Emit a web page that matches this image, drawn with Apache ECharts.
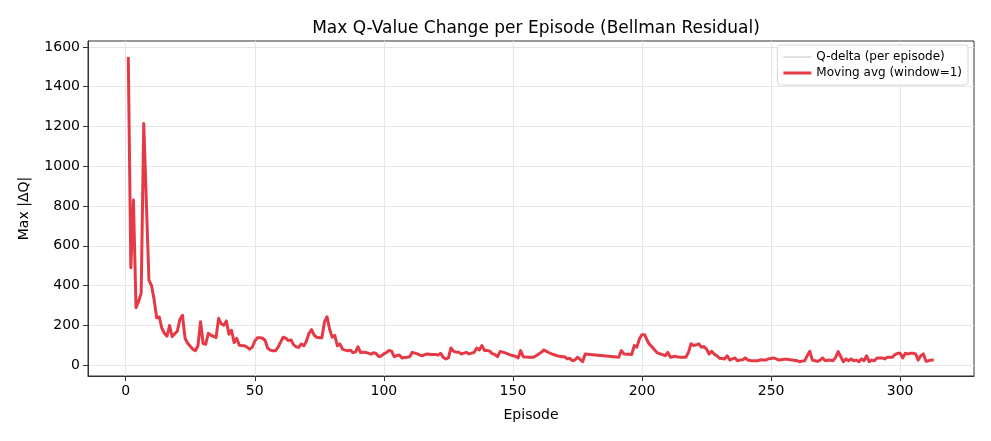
<!DOCTYPE html>
<html>
<head>
<meta charset="utf-8">
<script src="https://cdn.jsdelivr.net/npm/echarts@6/dist/echarts.min.js"></script>
<style>
html,body{margin:0;padding:0;background:#fff;}
#chart{width:991px;height:441px;}
</style>
</head>
<body>
<div id="chart"></div>
<script>
const episodes = [1,2,3,4,5,6,7,8,9,10,11,12,13,14,15,16,17,18,19,20,21,22,23,24,25,26,27,28,29,30,31,32,33,34,35,36,37,38,39,40,41,42,43,44,45,46,47,48,49,50,
51,52,53,54,55,56,57,58,59,60,61,62,63,64,65,66,67,68,69,70,71,72,73,74,75,76,77,78,79,80,81,82,83,84,85,86,87,88,89,90,91,92,93,94,95,96,97,98,99,100,
101,102,103,104,105,106,107,108,109,110,111,112,113,114,115,116,117,118,119,120,121,122,123,124,125,126,127,128,129,130,131,132,133,134,135,136,137,138,139,140,141,142,143,144,145,146,147,148,149,150,
151,152,153,154,155,156,157,158,159,160,161,162,163,164,165,166,167,168,169,170,171,172,173,174,175,176,177,178,
191,192,193,194,195,196,197,198,199,200,
201,202,203,204,205,206,207,208,209,210,211,212,213,214,215,216,217,218,219,220,221,222,223,224,225,226,227,228,229,230,231,232,233,234,235,236,237,238,239,240,241,242,243,244,245,246,247,248,249,250,
251,252,253,254,255,256,257,258,259,260,261,262,263,264,265,266,267,268,269,270,271,272,273,274,275,276,277,278,279,280,281,282,283,284,285,286,287,288,289,290,291,292,293,294,295,296,297,298,299,300,
301,302,303,304,305,306,307,308,309,310,311,312,313];
const qDelta = [1550,490,830,288,320,362,1215,820,426,400,330,238,242,185,160,145,199,143,158,170,230,250,135,110,95,80,72,97,218,108,105,160,150,145,138,235,208,200,222,155,175,113,135,100,98,97,90,80,89,120,
137,137,135,125,85,75,72,72,89,115,140,135,123,127,103,92,89,106,97,120,160,178,150,140,137,137,217,243,180,140,149,97,106,80,75,72,75,63,65,92,63,65,63,60,55,62,58,43,46,56,
63,73,70,42,48,51,36,38,39,42,64,60,56,50,47,53,56,53,53,53,50,59,39,31,36,86,69,66,64,56,60,64,56,60,64,86,76,98,73,73,70,58,53,42,68,65,61,56,51,47,
44,36,73,42,40,39,39,39,47,56,64,76,69,62,56,52,47,44,42,42,31,34,22,25,39,29,17,56,
39,73,56,55,54,53,98,90,132,153,
153,124,103,90,75,61,56,53,47,64,39,42,44,40,39,39,39,64,107,98,102,107,90,93,80,56,69,55,47,34,33,31,47,25,31,36,22,25,27,36,25,23,22,22,22,27,25,25,32,33,
36,31,25,27,29,29,28,25,24,22,17,20,22,47,69,25,22,19,25,36,22,25,24,22,39,68,42,17,31,22,31,22,25,17,31,22,47,17,25,22,36,36,36,31,39,39,39,53,59,59,
36,59,56,59,59,56,25,47,56,19,22,25,25];
const movingAvg = qDelta.slice(); // window = 1
const xTicks = [0,50,100,150,200,250,300];
const yTicks = [0,200,400,600,800,1000,1200,1400,1600];

const font = 'DejaVu Sans';
const chart = echarts.init(document.getElementById('chart'), null, {renderer:'canvas'});
chart.setOption({
  animation:false,
  backgroundColor:'#fff',
  textStyle:{fontFamily:font},
  title:{
    text:'Max Q-Value Change per Episode (Bellman Residual)',
    left:531, top:15, textAlign:'center',
    textStyle:{fontFamily:font,fontSize:17,fontWeight:'normal',color:'#000'}
  },
  grid:{left:88,right:17,top:41,bottom:65,show:true,borderColor:'#333',borderWidth:1,containLabel:false},
  legend:{
    right:23, top:45, orient:'vertical', itemGap:4,
    itemWidth:28, itemHeight:10,
    padding:[6,6,6,6],
    borderColor:'#d8d8d8', borderWidth:1, borderRadius:3,
    backgroundColor:'rgba(255,255,255,0.8)',
    textStyle:{fontFamily:font,fontSize:12,color:'#000'},
    data:[{name:'Q-delta (per episode)',icon:'path://M0,4.5L28,4.5L28,5.5L0,5.5Z'},
          {name:'Moving avg (window=1)',icon:'path://M0,3.5L28,3.5L28,6.5L0,6.5Z'}]
  },
  xAxis:{
    type:'value', min:-14.6, max:328.6,
    name:'Episode', nameLocation:'middle', nameGap:32,
    nameTextStyle:{fontFamily:font,fontSize:14,color:'#000'},
    axisLine:{show:true,onZero:false,lineStyle:{color:'#333'}},
    axisTick:{show:true,length:5,lineStyle:{color:'#333'},customValues:xTicks},
    axisLabel:{fontFamily:font,fontSize:14,color:'#000',margin:8,customValues:xTicks,formatter:v=>String(v)},
    splitLine:{show:true,lineStyle:{color:'#e6e6e6',width:1}}
  },
  yAxis:{
    type:'value', min:-55, max:1630,
    name:'Max |ΔQ|', nameLocation:'middle', nameGap:57, nameRotate:90,
    nameTextStyle:{fontFamily:font,fontSize:14,color:'#000'},
    axisLine:{show:true,onZero:false,lineStyle:{color:'#333'}},
    axisTick:{show:true,length:5,lineStyle:{color:'#333'},customValues:yTicks},
    axisLabel:{fontFamily:font,fontSize:14,color:'#000',margin:8,customValues:yTicks,formatter:v=>String(v)},
    splitLine:{show:true,lineStyle:{color:'#e6e6e6',width:1}}
  },
  series:[
    {name:'Q-delta (per episode)',type:'line',symbol:'none',
     data:episodes.map((e,i)=>[e,qDelta[i]]),
     itemStyle:{color:'rgba(150,150,150,0.6)'},
     lineStyle:{color:'rgba(150,150,150,0.6)',width:1}},
    {name:'Moving avg (window=1)',type:'line',symbol:'none',
     data:episodes.map((e,i)=>[e,movingAvg[i]]),
     itemStyle:{color:'#e63946'},
     lineStyle:{color:'#e63946',width:3,join:'round'}}
  ]
});
</script>
</body>
</html>
